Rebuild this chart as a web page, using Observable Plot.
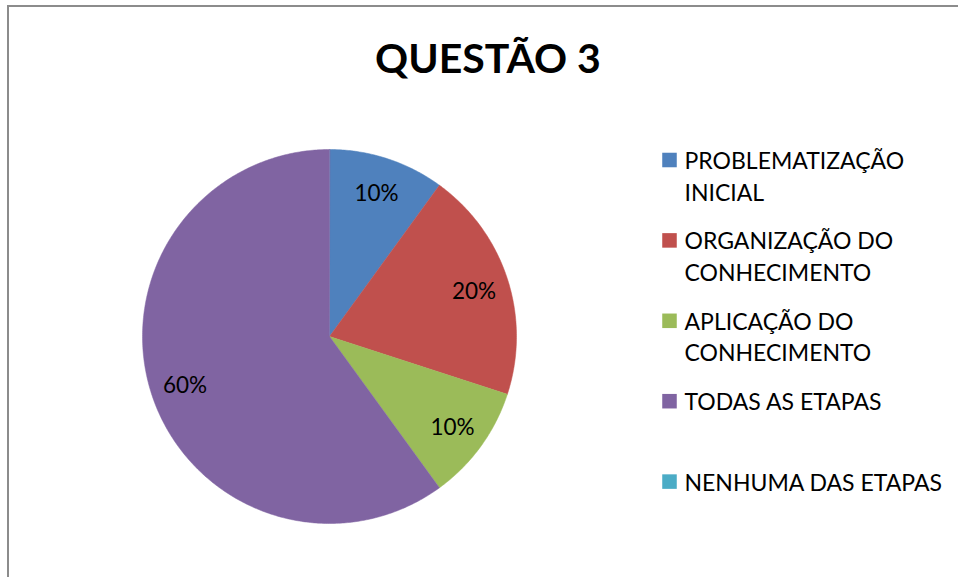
<!DOCTYPE html>
<html>
<head>
<meta charset="utf-8">
<script src="https://cdn.jsdelivr.net/npm/d3@7"></script>
<script src="https://cdn.jsdelivr.net/npm/@observablehq/plot@0.6"></script>
<style>
  html, body { margin: 0; padding: 0; background: #fff; }
  body { width: 958px; height: 577px; position: relative; overflow: hidden; font-family: Lato, "Open Sans", sans-serif; }
  #frame { position: absolute; left: 7px; top: 5px; width: 980px; height: 600px; border-left: 2px solid #8c8c8c; border-top: 2px solid #8c8c8c; }
  #title { position: absolute; left: 0; width: 976px; top: 37px; text-align: center; font-weight: 700; font-size: 41px; color: #000; line-height: 1; }
  #chart { position: absolute; left: 0; top: 0; }
</style>
</head>
<body>
<div id="chart"></div>
<div id="frame"></div>
<div id="title">QUESTÃO 3</div>
<script>
// Data
const categories = ["PROBLEMATIZAÇÃO INICIAL", "ORGANIZAÇÃO DO CONHECIMENTO", "APLICAÇÃO DO CONHECIMENTO", "TODAS AS ETAPAS", "NENHUMA DAS ETAPAS"];
const legendLines = [["PROBLEMATIZAÇÃO", "INICIAL"], ["ORGANIZAÇÃO DO", "CONHECIMENTO"], ["APLICAÇÃO DO", "CONHECIMENTO"], ["TODAS AS ETAPAS"], ["NENHUMA DAS ETAPAS"]];
const values = [10, 20, 10, 60, 0];
const colors = ["#4F81BD", "#C0504D", "#9BBB59", "#8064A2", "#4BACC6"];

// Layout
const W = 958, H = 577;
const cx = 329, cy = 336, R = 187, labelR = 152;
const legX = 669, legTextX = 684, legTop = 159.5, legStep = 80.4, lineStep = 31.5;

const total = d3.sum(values);
const arcs = d3.pie().sort(null).value(d => d)(values);

// wedge polygons
const wedgePts = [];
arcs.forEach((a, i) => {
  if (a.endAngle - a.startAngle <= 0) return;
  wedgePts.push({cat: categories[i], x: cx, y: cy});
  const n = Math.max(2, Math.ceil((a.endAngle - a.startAngle) / 0.01));
  for (let k = 0; k <= n; k++) {
    const t = a.startAngle + (a.endAngle - a.startAngle) * k / n;
    wedgePts.push({cat: categories[i], x: cx + R * Math.sin(t), y: cy - R * Math.cos(t)});
  }
});

const labels = arcs.filter(a => a.value > 0).map(a => {
  const m = (a.startAngle + a.endAngle) / 2;
  return {text: Math.round(a.value / total * 100) + "%", x: cx + labelR * Math.sin(m), y: cy - labelR * Math.cos(m)};
});

const legendSwatches = categories.map((c, i) => ({cat: c, x: legX, y: legTop + i * legStep}));
const legendTexts = [];
legendLines.forEach((lines, i) => {
  lines.forEach((t, j) => legendTexts.push({text: t, x: legTextX, y: legTop + i * legStep + 9 + j * lineStep}));
});

const plot = Plot.plot({
  width: W, height: H,
  margin: 0,
  x: {type: "identity", axis: null},
  y: {type: "identity", axis: null},
  color: {domain: categories, range: colors},
  style: {background: "transparent", fontFamily: "Lato, 'Open Sans', sans-serif"},
  marks: [
    Plot.line(wedgePts, {x: "x", y: "y", z: "cat", fill: "cat", stroke: "cat", strokeWidth: 0.5, curve: "linear-closed"}),
    Plot.text(labels, {x: "x", y: "y", text: "text", fontSize: 22.5, fill: "#000", textAnchor: "middle", dy: 2}),
    Plot.dot(legendSwatches, {x: "x", y: "y", fill: "cat", symbol: "square", r: 8.2, stroke: null}),
    Plot.text(legendTexts, {x: "x", y: "y", text: "text", fontSize: 23, fill: "#000", textAnchor: "start", lineAnchor: "bottom"})
  ]
});
document.getElementById("chart").appendChild(plot);
</script>
</body>
</html>
